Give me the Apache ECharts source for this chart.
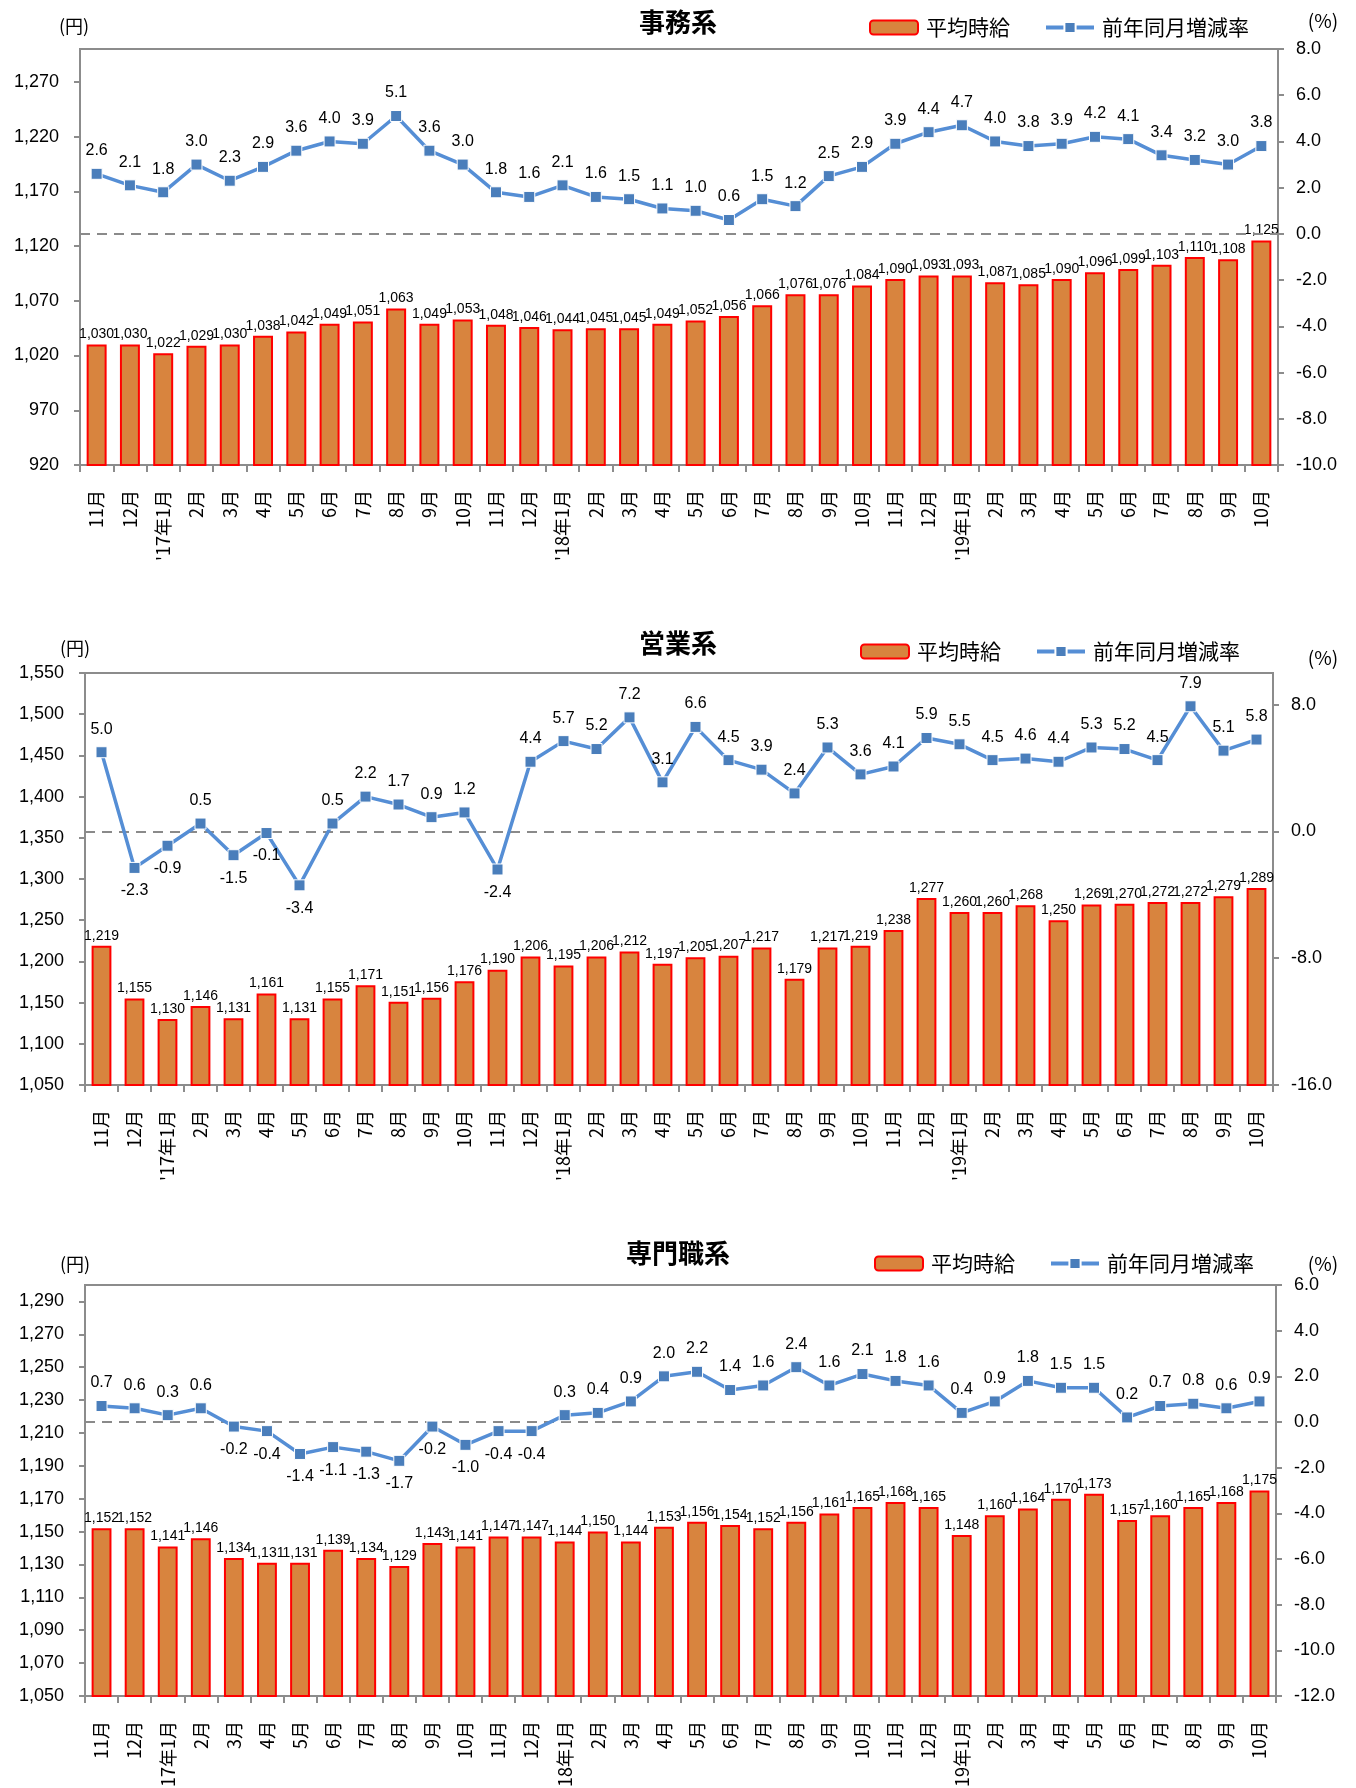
<!DOCTYPE html>
<html><head><meta charset="utf-8">
<script src="https://cdn.jsdelivr.net/npm/echarts@6/dist/echarts.min.js"></script>
<style>html,body{margin:0;padding:0;background:#fff}#c{width:1356px;height:1788px}</style>
</head><body><div id="c"></div>
<script>
const categories = ['11月','12月',"'17年1月",'2月','3月','4月','5月','6月','7月','8月','9月','10月',
  '11月','12月',"'18年1月",'2月','3月','4月','5月','6月','7月','8月','9月','10月',
  '11月','12月',"'19年1月",'2月','3月','4月','5月','6月','7月','8月','9月','10月'];

const titles = ['事務系','営業系','専門職系'];
const wageName = '平均時給';
const rateName = '前年同月増減率';

const jimuWage = [1030,1030,1022,1029,1030,1038,1042,1049,1051,1063,1049,1053,1048,1046,1044,1045,1045,1049,1052,1056,1066,1076,1076,1084,1090,1093,1093,1087,1085,1090,1096,1099,1103,1110,1108,1125];
const jimuRate = [2.6,2.1,1.8,3.0,2.3,2.9,3.6,4.0,3.9,5.1,3.6,3.0,1.8,1.6,2.1,1.6,1.5,1.1,1.0,0.6,1.5,1.2,2.5,2.9,3.9,4.4,4.7,4.0,3.8,3.9,4.2,4.1,3.4,3.2,3.0,3.8];

const eigyoWage = [1219,1155,1130,1146,1131,1161,1131,1155,1171,1151,1156,1176,1190,1206,1195,1206,1212,1197,1205,1207,1217,1179,1217,1219,1238,1277,1260,1260,1268,1250,1269,1270,1272,1272,1279,1289];
const eigyoRate = [5.0,-2.3,-0.9,0.5,-1.5,-0.1,-3.4,0.5,2.2,1.7,0.9,1.2,-2.4,4.4,5.7,5.2,7.2,3.1,6.6,4.5,3.9,2.4,5.3,3.6,4.1,5.9,5.5,4.5,4.6,4.4,5.3,5.2,4.5,7.9,5.1,5.8];

const senmonWage = [1152,1152,1141,1146,1134,1131,1131,1139,1134,1129,1143,1141,1147,1147,1144,1150,1144,1153,1156,1154,1152,1156,1161,1165,1168,1165,1148,1160,1164,1170,1173,1157,1160,1165,1168,1175];
const senmonRate = [0.7,0.6,0.3,0.6,-0.2,-0.4,-1.4,-1.1,-1.3,-1.7,-0.2,-1.0,-0.4,-0.4,0.3,0.4,0.9,2.0,2.2,1.4,1.6,2.4,1.6,2.1,1.8,1.6,0.4,0.9,1.8,1.5,1.5,0.2,0.7,0.8,0.6,0.9];

// axis scales (yen / percent)
const yenMin = [920, 1050, 1050];
const yenMax = [1300, 1550, 1300];
const yenStep = [50, 50, 20];
const pctMin = [-10, -16, -12];
const pctMax = [8, 10, 6];
const pctStep = [2, 8, 2];

const wages = [jimuWage, eigyoWage, senmonWage];
const rates = [jimuRate, eigyoRate, senmonRate];

const layout = [
  {top:49, height:416, left:80, right:78, titleTop:4, legendLeft:869, legendTop:17, yen:[74,26], pct:[1323,21]},
  {top:673, height:412, left:85, right:83, titleTop:625, legendLeft:860, legendTop:641, yen:[75,648], pct:[1323,658]},
  {top:1285, height:411, left:85, right:80, titleTop:1235, legendLeft:874, legendTop:1253, yen:[75,1264], pct:[1323,1264]}
];

const CJK = '"Noto Sans CJK JP", sans-serif';
const NUM = '"Liberation Sans", Arial, sans-serif';
const NARROW = '"Liberation Sans Narrow", "Liberation Sans", sans-serif';
const AXIS_GRAY = '#8c8c8c';
const BAR_FILL = '#D8843E';
const BAR_EDGE = '#FF0000';
const LINE_COL = '#558ED5';
const MARK_COL = '#4A7EBB';

const fmtYen = v => Math.round(v).toString().replace(/\B(?=(\d{3})+(?!\d))/g, ',');

const option = {
  animation: false,
  backgroundColor: '#fff',
  title: [], legend: [], grid: [], xAxis: [], yAxis: [], series: [], graphic: []
};

for (let i = 0; i < 3; i++) {
  const L = layout[i];
  option.title.push({
    text: titles[i], left: 'center', top: L.titleTop,
    textStyle: {fontFamily: CJK, fontSize: 26, fontWeight: 'bold', color: '#000'}
  });
  option.legend.push({
    data: [wageName, rateName], left: L.legendLeft, top: L.legendTop, padding: 0,
    itemWidth: 48, itemHeight: 14, itemGap: 34, selectedMode: false,
    lineStyle: {width: 4},
    textStyle: {fontFamily: CJK, fontSize: 21, color: '#000', padding: [0,0,0,3]}
  });
  option.grid.push({
    left: L.left, right: L.right, top: L.top, height: L.height,
    show: true, borderColor: AXIS_GRAY, borderWidth: 2,
    containLabel: false, outerBoundsMode: 'none'
  });
  option.xAxis.push({
    type: 'category', gridIndex: i, data: categories,
    axisLine: {onZero: false, lineStyle: {color: AXIS_GRAY, width: 2}},
    axisTick: {show: true, length: 7, lineStyle: {color: AXIS_GRAY, width: 2}},
    axisLabel: {interval: 0, rotate: 90, fontFamily: CJK, fontSize: 18, color: '#000', margin: 25}
  });
  option.yAxis.push({
    type: 'value', gridIndex: i, position: 'left',
    min: yenMin[i], max: yenMax[i], interval: yenStep[i],
    splitLine: {show: false},
    axisLine: {show: true, onZero: false, lineStyle: {color: AXIS_GRAY, width: 2}},
    axisTick: {show: true, length: 6, lineStyle: {color: AXIS_GRAY, width: 2}},
    axisLabel: {fontFamily: NUM, fontSize: 18, color: '#000', margin: 21, formatter: fmtYen,
      showMaxLabel: yenMax[i] % yenStep[i] === (yenMin[i] % yenStep[i])}
  });
  option.yAxis.push({
    type: 'value', gridIndex: i, position: 'right',
    min: pctMin[i], max: pctMax[i], interval: pctStep[i],
    splitLine: {show: false},
    axisLine: {show: true, onZero: false, lineStyle: {color: AXIS_GRAY, width: 2}},
    axisTick: {show: true, length: 6, lineStyle: {color: AXIS_GRAY, width: 2}},
    axisLabel: {fontFamily: NUM, fontSize: 18, color: '#000', margin: 18,
      formatter: v => v.toFixed(1),
      showMaxLabel: (pctMax[i] - pctMin[i]) % pctStep[i] === 0}
  });
  option.series.push({
    name: wageName, type: 'bar', xAxisIndex: i, yAxisIndex: 2 * i,
    data: wages[i], barWidth: '60%',
    itemStyle: {color: BAR_FILL, borderColor: BAR_EDGE, borderWidth: 2},
    label: {show: true, position: 'top', distance: 3, fontFamily: NARROW, fontSize: 14, color: '#000',
      formatter: p => fmtYen(p.value)}
  });
  option.series.push({
    name: rateName, type: 'line', xAxisIndex: i, yAxisIndex: 2 * i + 1,
    data: rates[i].map(v => ({value: v, label: {position: v < 0 ? 'bottom' : 'top'}})),
    symbol: 'rect', symbolSize: 11,
    lineStyle: {color: LINE_COL, width: 3.5},
    itemStyle: {color: MARK_COL, borderColor: '#fff', borderWidth: 1},
    label: {show: true, distance: 9, fontFamily: NUM, fontSize: 16, color: '#000',
      formatter: p => p.value.toFixed(1)},
    markLine: {silent: true, symbol: ['none', 'none'], label: {show: false},
      lineStyle: {color: '#8a8a8a', type: [10, 7], width: 2, cap: 'butt'},
      emphasis: {disabled: true},
      data: [{yAxis: 0}]},
    z: 5
  });
  option.graphic.push({
    type: 'text', x: L.yen[0], y: L.yen[1],
    style: {text: '(円)', font: '18px ' + CJK, fill: '#000', align: 'center', verticalAlign: 'middle'}
  });
  option.graphic.push({
    type: 'text', x: L.pct[0], y: L.pct[1],
    style: {text: '(%)', font: '19px ' + CJK, fill: '#000', align: 'center', verticalAlign: 'middle'}
  });
}

const chart = echarts.init(document.getElementById('c'), null, {renderer: 'canvas'});
chart.setOption(option);
</script>
</body></html>
